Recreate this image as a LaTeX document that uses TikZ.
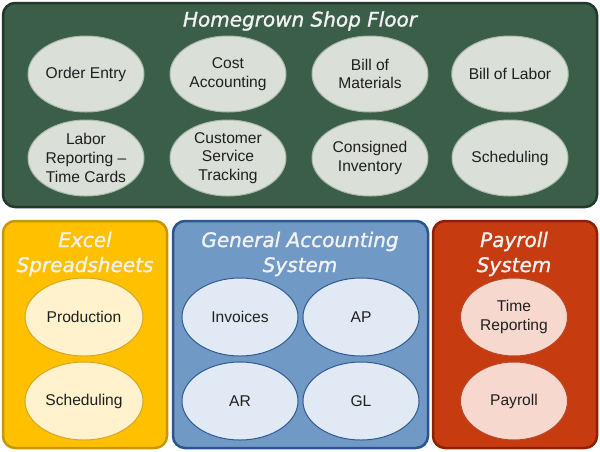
\documentclass[tikz,border=0pt]{standalone}
\usepackage{fontspec}
\setmainfont{Liberation Sans}
\newfontfamily\titlefont[FakeBold=1.3]{DejaVu Sans}
\usetikzlibrary{shapes.geometric}
\definecolor{grfill}{HTML}{3B5E48}
\definecolor{grdraw}{HTML}{22382A}
\definecolor{grell}{HTML}{DADFD8}
\definecolor{grelld}{HTML}{A9B8AB}
\definecolor{yefill}{HTML}{FFC000}
\definecolor{yedraw}{HTML}{C8960A}
\definecolor{yeell}{HTML}{FFF2CC}
\definecolor{yeelld}{HTML}{D8A520}
\definecolor{blfill}{HTML}{7099C6}
\definecolor{bldraw}{HTML}{2B5590}
\definecolor{blell}{HTML}{E1EAF4}
\definecolor{blelld}{HTML}{2F5A94}
\definecolor{rdfill}{HTML}{C63C10}
\definecolor{rddraw}{HTML}{8C2000}
\definecolor{rdell}{HTML}{F7D8CE}
\definecolor{rdelld}{HTML}{B84828}
\tikzset{
  panel/.style={rounded corners=12pt, line width=2.5pt},
  oval/.style={ellipse, draw, line width=1pt, minimum width=116pt, minimum height=76pt,
    inner sep=0pt, align=center, text=black!88,
    font=\fontsize{15.6}{18.8}\selectfont},
  ttl/.style={text=white!95!black, align=center,
    font=\titlefont\itshape\fontsize{20}{25}\selectfont},
  goval/.style={oval, fill=grell, draw=grelld},
  yoval/.style={oval, fill=yeell, draw=yeelld, minimum width=118pt, minimum height=78pt},
  boval/.style={oval, fill=blell, draw=blelld, minimum width=116pt, minimum height=78pt},
  roval/.style={oval, fill=rdell, draw=rdelld, minimum width=107pt, minimum height=78pt}
}
\begin{document}
\begin{tikzpicture}[x=1pt,y=-1pt]
\useasboundingbox[fill=white] (0,0) rectangle (600,451);
% panels
\draw[panel, fill=grfill, draw=grdraw] (3,3) rectangle (597,207);
\draw[panel, fill=yefill, draw=yedraw] (3,221) rectangle (167,448);
\draw[panel, fill=blfill, draw=bldraw] (173,221) rectangle (428,448);
\draw[panel, fill=rdfill, draw=rddraw] (433,221) rectangle (597,448);
% titles
\node[ttl] (t1) at (300,21) {Homegrown Shop Floor};
\node[ttl] (t2) at (85,254) {Excel\\Spreadsheets};
\node[ttl] (t3) at (300,254) {General Accounting\\System};
\node[ttl] (t4) at (514,254) {Payroll\\System};
% top ovals
\node[goval] (oe) at (86,74) {Order Entry};
\node[goval] (ca) at (228,74) {Cost\\Accounting};
\node[goval] (bm) at (370,74) {Bill of\\Materials};
\node[goval] (bl) at (510,74) {Bill of Labor};
\node[goval] (lr) at (86,158) {Labor\\Reporting --\\Time Cards};
\node[goval] (cs) at (228,158) {Customer\\Service\\Tracking};
\node[goval] (ci) at (370,158) {Consigned\\Inventory};
\node[goval] (sc) at (510,158) {Scheduling};
% excel
\node[yoval] (pr) at (84,317) {Production};
\node[yoval] (es) at (84,401) {Scheduling};
% accounting
\node[boval] (in) at (240,317) {Invoices};
\node[boval] (ap) at (361,317) {AP};
\node[boval] (ar) at (240,401) {AR};
\node[boval] (gl) at (361,401) {GL};
% payroll
\node[roval] (tr) at (514,317) {Time\\Reporting};
\node[roval] (pa) at (514,401) {Payroll};
\end{tikzpicture}
\end{document}
